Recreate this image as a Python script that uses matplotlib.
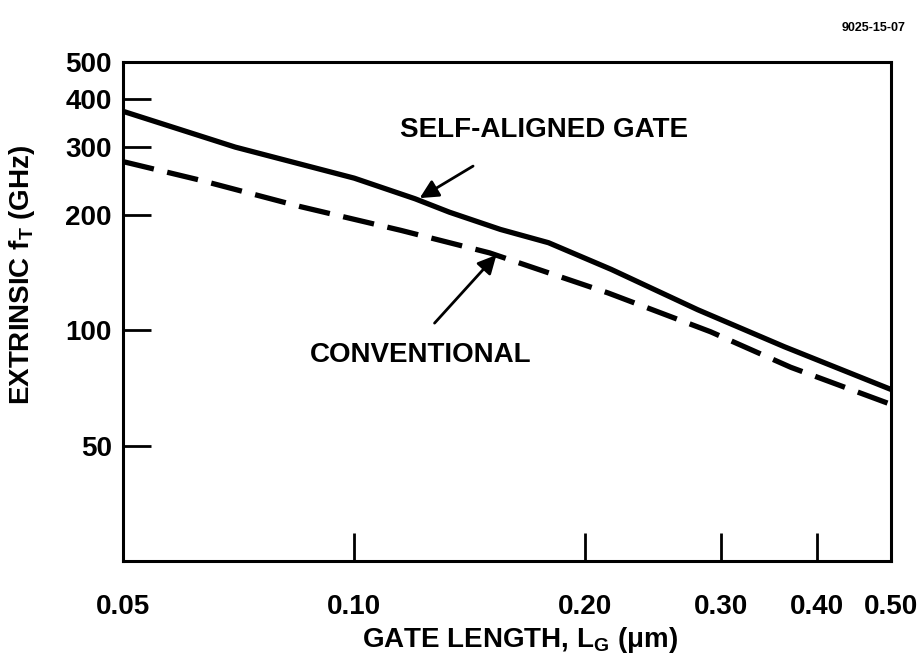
import matplotlib
matplotlib.use("Agg")
import matplotlib.pyplot as plt
from matplotlib.ticker import FixedLocator, NullLocator

plt.rcParams['font.family'] = ['Liberation Sans', 'DejaVu Sans']
plt.rcParams['font.weight'] = 'bold'
plt.rcParams['axes.labelweight'] = 'bold'
plt.rcParams['mathtext.fontset'] = 'custom'
plt.rcParams['mathtext.rm'] = 'Liberation Sans:bold'
plt.rcParams['mathtext.bf'] = 'Liberation Sans:bold'

# gate length (um) vs extrinsic fT (GHz)
sa_x = [0.05, 0.07, 0.10, 0.12, 0.133, 0.155, 0.179, 0.216, 0.28, 0.363, 0.50]
sa_y = [372, 300, 249, 220, 203, 183, 169, 144, 113, 90.5, 70]

conv_x = [0.05, 0.063, 0.085, 0.115, 0.15, 0.214, 0.291, 0.37, 0.50]
conv_y = [275, 246, 210, 182, 159, 125, 99, 80, 64]

x_ticks = [0.05, 0.10, 0.20, 0.30, 0.40, 0.50]
x_labels = ['0.05', '0.10', '0.20', '0.30', '0.40', '0.50']
y_ticks = [50, 100, 200, 300, 400, 500]
y_labels = ['50', '100', '200', '300', '400', '500']

fig = plt.figure(figsize=(9.21, 6.6), dpi=100)
ax = fig.add_axes([0.1336, 0.15, 0.834, 0.756])
ax.set_xscale('log')
ax.set_yscale('log')
ax.set_xlim(0.05, 0.5)
ax.set_ylim(25, 500)

ax.plot(sa_x, sa_y, color='black', lw=3.8, solid_capstyle='butt')
ax.plot(conv_x, conv_y, color='black', lw=3.8, dashes=(6, 2.6), dash_capstyle='butt')

for s in ax.spines.values():
    s.set_linewidth(2.2)

ax.xaxis.set_major_locator(FixedLocator(x_ticks))
ax.xaxis.set_minor_locator(NullLocator())
ax.set_xticklabels(x_labels)
ax.yaxis.set_major_locator(FixedLocator(y_ticks))
ax.yaxis.set_minor_locator(NullLocator())
ax.set_yticklabels(y_labels)
ax.tick_params(direction='in', length=20, width=2, labelsize=20, pad=8)
ax.tick_params(axis='x', pad=24)

ax.set_xlabel('GATE LENGTH, L$_{\\mathbf{G}}$ (\u03bcm)', fontsize=20, fontweight='bold')
ax.xaxis.set_label_coords(0.517, -0.128)
ax.set_ylabel('EXTRINSIC f$_{\\mathbf{T}}$ (GHz)', fontsize=20, fontweight='bold')
ax.yaxis.set_label_coords(-0.112, 0.573)

ax.annotate('SELF-ALIGNED GATE', xy=(0.1208, 219), xytext=(0.1764, 333),
            ha='center', va='center', fontsize=20, fontweight='bold')
ax.annotate('', xy=(0.1208, 219), xytext=(0.1438, 270),
            arrowprops=dict(arrowstyle='-|>', lw=2, color='black', mutation_scale=28))
ax.annotate('CONVENTIONAL', xy=(0.154, 159), xytext=(0.122, 86.3),
            ha='center', va='center', fontsize=20, fontweight='bold')
ax.annotate('', xy=(0.154, 159), xytext=(0.1265, 103),
            arrowprops=dict(arrowstyle='-|>', lw=2, color='black', mutation_scale=28))

fig.text(0.983, 0.957, '9025-15-07', ha='right', va='center', fontsize=9, fontweight='bold')

fig.savefig('out.png', dpi=100)
